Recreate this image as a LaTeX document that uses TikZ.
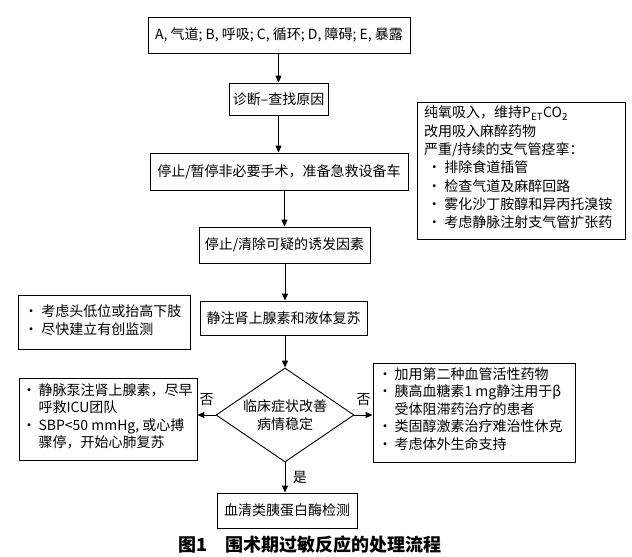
\documentclass[tikz,border=0pt]{standalone}
\usepackage{fontspec}
\setmainfont{Noto Sans CJK SC}
\usetikzlibrary{shapes.geometric,arrows.meta}
\begin{document}
\begin{tikzpicture}[x=1pt,y=-1pt,
  every node/.style={font=\fontsize{14}{16}\selectfont},
  box/.style={draw,line width=0.9pt,inner sep=0pt},
  arr/.style={-{Triangle[length=7pt,width=6pt]},line width=1pt},
  lbl/.style={font=\fontsize{14}{16}\selectfont}]
\useasboundingbox (0,0) rectangle (632,557);
\newcommand{\bx}[5]{\node[box,minimum width=#3-#1,minimum height=#4-#2] (#5) at ({(#1+#3)/2},{(#2+#4)/2}) {};}
\bx{148}{17}{410}{53}{a}
\node at (a) {A, 气道; B, 呼吸; C, 循环; D, 障碍; E, 暴露};
\bx{229}{83}{328}{115}{b}
\node at (b) {诊断–查找原因};
\bx{150}{153}{408}{190}{c}
\node at (c) {停止/暂停非必要手术，准备急救设备车};
\bx{199}{227}{370}{263}{d}
\node at (d) {停止/清除可疑的诱发因素};
\bx{200}{301}{367}{335}{e}
\node at (e) {静注肾上腺素和液体复苏};
\node[draw,diamond,line width=0.9pt,minimum width=138pt,minimum height=94pt,inner sep=0pt] (f) at (285,415) {};
\node[align=center,font=\fontsize{14}{18}\selectfont] at (f) {临床症状改善\\病情稳定};
\bx{217}{493}{357}{528}{g}
\node at (g) {血清类胰蛋白酶检测};
\bx{417}{102}{625}{239}{r1}
\node[anchor=north west,align=left,inner sep=0pt,font=\fontsize{14}{18.3}\selectfont] at (424,106) {%
纯氧吸入，维持P\textsubscript{ET}CO\textsubscript{2}\\改用吸入麻醉药物\\严重/持续的支气管痉挛：\\
\ · 排除食道插管\\ \ · 检查气道及麻醉回路\\ \ · 雾化沙丁胺醇和异丙托溴铵\\ \ · 考虑静脉注射支气管扩张药};
\bx{18}{295}{190}{349}{l1}
\node[anchor=north west,align=left,inner sep=0pt,font=\fontsize{14}{18}\selectfont] at (24,304) {· 考虑头低位或抬高下肢\\· 尽快建立有创监测};
\bx{19}{378}{197}{460}{l2}
\node[anchor=north west,inner sep=0pt,font=\fontsize{14}{17.5}\selectfont] at (22,383) {%
\begin{tabular}{@{}l@{\,}l@{}}·&静脉泵注肾上腺素，尽早\\&呼救ICU团队\\·&SBP<50 mmHg, 或心搏\\&骤停，开始心肺复苏\end{tabular}};
\bx{373}{363}{575}{462}{r2}
\node[anchor=north west,inner sep=0pt,font=\fontsize{14}{17.5}\selectfont] at (378,367) {%
\begin{tabular}{@{}l@{\,}l@{}}·&加用第二种血管活性药物\\·&胰高血糖素1 mg静注用于β\\&受体阻滞药治疗的患者\\·&类固醇激素治疗难治性休克\\·&考虑体外生命支持\end{tabular}};
\draw[arr] (a.south -| b) -- (b);
\draw[arr] (b) -- (c.north -| b);
\draw[arr] (c.south -| d) -- (d);
\draw[arr] (d.south -| f) -- (e.north -| f);
\draw[arr] (e.south -| f) -- (f.north);
\draw[arr] (f.south) -- (g.north -| f) node[midway,right=4pt,lbl]{是};
\draw[arr] (f.west) -- (l2.east |- f) node[midway,above=6pt,lbl]{否};
\draw[arr] (f.east) -- (r2.west |- f) node[midway,above=6pt,lbl]{否};
\node[font=\fontsize{18}{20}\bfseries\selectfont] at (310,545) {图1\quad 围术期过敏反应的处理流程};
\end{tikzpicture}
\end{document}
